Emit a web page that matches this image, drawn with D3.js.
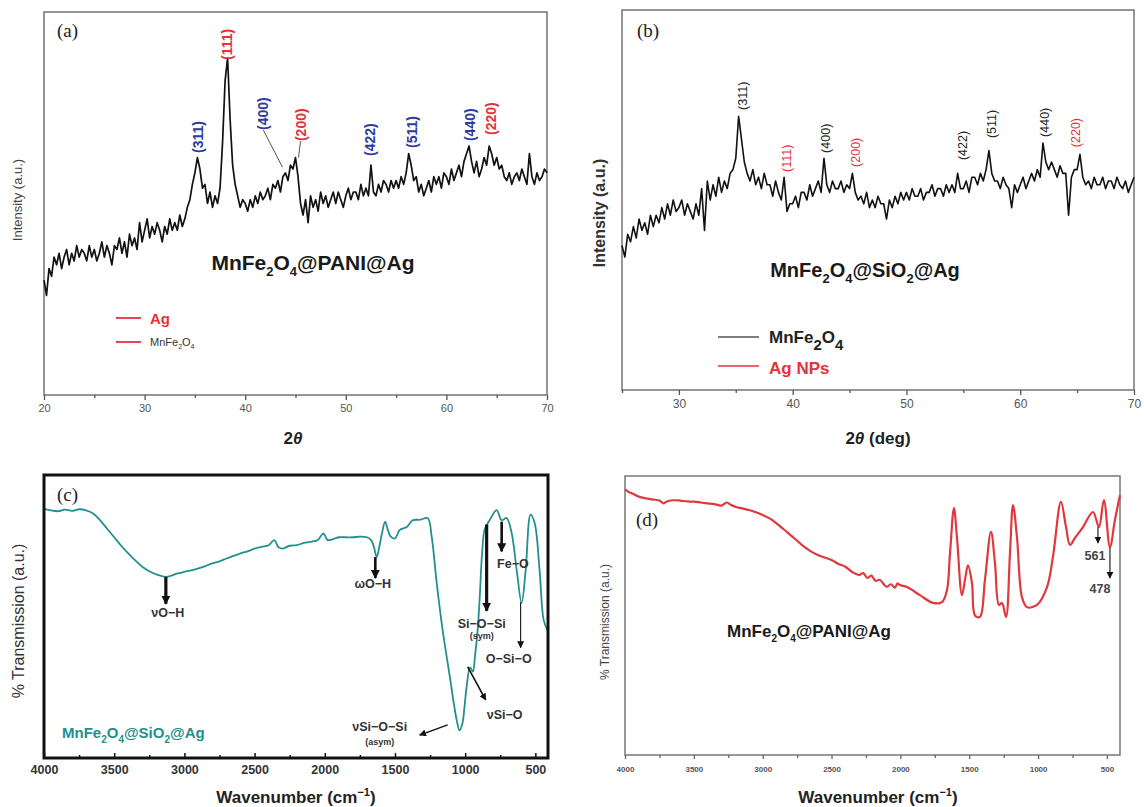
<!DOCTYPE html>
<html>
<head>
<meta charset="utf-8">
<script src="https://cdn.jsdelivr.net/npm/d3@7"></script>
<style>
body { margin: 0; background: #fff; }
svg { display: block; }
</style>
</head>
<body>
<svg id="fig" width="1144" height="807"></svg>
<script>
// ---- data ----
// XRD (a) MnFe2O4@PANI@Ag, scan from 20 deg in 0.25 deg steps
var xrdA_start = 20, xrdA_step = 0.25;
var xrdA = [
  30, 26, 33, 31,  36, 34, 37, 33,  36, 38, 34, 37,  35, 39, 36, 38,  37, 35, 39, 36,
  38, 35, 37, 40,  36, 39, 37, 34,  39, 38, 41, 37,  40, 36, 42, 39,  41, 38, 45, 40,
  43, 46, 41, 44,  42, 45, 43, 40,  44, 42, 46, 43,  45, 43, 47, 44,  46, 49, 51, 55,
  58, 62, 59, 54,  55, 50, 53, 49,  52, 50, 54, 66,  82, 88, 72, 60,  55, 52, 49, 51,
  50, 48, 51, 49,  52, 50, 53, 51,  52, 54, 51, 55,  54, 56, 53, 57,  58, 56, 60, 59,
  62, 57, 50, 47,  51, 45, 52, 49,  51, 48, 53, 50,  52, 49, 51, 53,  50, 53, 51, 49,
  52, 54, 51, 53,  53, 51, 55, 52,  54, 52, 60, 53,  52, 55, 53, 56,  55, 53, 56, 54,
  56, 54, 57, 55,  58, 63, 60, 56,  57, 53, 55, 52,  54, 56, 53, 57,  55, 57, 54, 58,
  57, 55, 59, 56,  58, 60, 57, 61,  63, 65, 61, 58,  61, 57, 59, 62,  60, 65, 63, 60,
  62, 59, 60, 57,  56, 58, 55, 57,  58, 56, 59, 57,  55, 63, 57, 55,  58, 56, 57, 59,
  58
];
var peaksA = [
  { hkl: "(311)", phase: "MnFe2O4", pos: 35.3, top: 63.2 },
  { hkl: "(111)", phase: "Ag", pos: 38.15, top: 87.5 },
  { hkl: "(400)", phase: "MnFe2O4", pos: 41.8, top: 69.2, peakPos: 43.7, peakI: 59.5 },
  { hkl: "(200)", phase: "Ag", pos: 45.5, top: 66.3, peakPos: 45.3, peakI: 62 },
  { hkl: "(422)", phase: "MnFe2O4", pos: 52.4, top: 62.4 },
  { hkl: "(511)", phase: "MnFe2O4", pos: 56.6, top: 64.5 },
  { hkl: "(440)", phase: "MnFe2O4", pos: 62.35, top: 66.3 },
  { hkl: "(220)", phase: "Ag", pos: 64.4, top: 67.9 }
];

// XRD (b) MnFe2O4@SiO2@Ag, scan from 25 deg in 0.25 deg steps
var xrdB_start = 25, xrdB_step = 0.25;
var xrdB = [
  38, 35, 41, 39,  43, 40, 45, 42,  44, 41, 46, 43,  46, 44, 48, 45,  49, 46, 50, 47,
  48, 50, 46, 49,  47, 45, 49, 46,  53, 42, 55, 50,  54, 51, 56, 52,  55, 53, 57, 58,
  61, 72, 66, 60,  57, 55, 58, 54,  56, 53, 57, 54,  54, 51, 55, 52,  50, 56, 47, 49,
  49, 51, 48, 52,  52, 50, 54, 51,  53, 55, 52, 61,  54, 52, 55, 53,  53, 55, 52, 54,
  53, 57, 52, 50,  51, 49, 52, 48,  50, 48, 51, 49,  49, 45, 50, 48,  51, 49, 52, 50,
  52, 50, 53, 51,  51, 53, 50, 52,  52, 54, 51, 53,  53, 51, 54, 52,  54, 52, 57, 53,
  53, 55, 52, 56,  56, 54, 57, 55,  58, 63, 57, 55,  55, 53, 56, 54,  53, 48, 54, 52,
  54, 56, 53, 55,  57, 55, 58, 56,  65, 60, 58, 60,  58, 56, 59, 57,  57, 46, 56, 58,
  58, 62, 56, 54,  55, 53, 56, 54,  54, 56, 53, 55,  55, 53, 56, 54,  53, 55, 52, 54,
  56
];
var peaksB = [
  { hkl: "(311)", phase: "MnFe2O4", pos: 35.6, top: 73.7 },
  { hkl: "(111)", phase: "Ag", pos: 39.5, top: 57.4 },
  { hkl: "(400)", phase: "MnFe2O4", pos: 42.9, top: 62.4 },
  { hkl: "(200)", phase: "Ag", pos: 45.5, top: 58.7 },
  { hkl: "(422)", phase: "MnFe2O4", pos: 54.9, top: 60.5 },
  { hkl: "(511)", phase: "MnFe2O4", pos: 57.5, top: 66.3 },
  { hkl: "(440)", phase: "MnFe2O4", pos: 62.1, top: 66.6 },
  { hkl: "(220)", phase: "Ag", pos: 64.9, top: 63.9 }
];

// FTIR (c) MnFe2O4@SiO2@Ag  [wavenumber, transmission]
var ftirC = [
  [4000, 88], [3900, 87.2], [3850, 87.8], [3800, 87.3], [3750, 87.9], [3700, 87.5],
  [3650, 86.4], [3600, 84], [3550, 81], [3500, 78], [3450, 75], [3400, 72.3],
  [3350, 69.8], [3300, 67.6], [3250, 66], [3200, 64.9], [3130, 64], [3050, 65.2],
  [3000, 65.8], [2950, 66.3], [2900, 67], [2850, 67.8], [2800, 68.8], [2750, 69.5],
  [2700, 70.5], [2650, 71.4], [2600, 72.3], [2550, 73], [2500, 74], [2450, 74.6],
  [2400, 75.2], [2360, 77], [2330, 74.5], [2300, 74], [2250, 75], [2200, 75.2],
  [2150, 76], [2100, 76.4], [2050, 77], [2010, 79.4], [1980, 77], [1950, 77.2],
  [1900, 78], [1850, 78], [1800, 78], [1750, 78.2], [1700, 78], [1670, 77],
  [1650, 74.6], [1630, 71], [1610, 75], [1590, 80], [1570, 83.5], [1550, 80.5],
  [1530, 78.2], [1500, 77.6], [1466, 80.6], [1416, 81.6], [1374, 84], [1320, 84.2],
  [1267, 84.8], [1238, 78], [1203, 62], [1160, 45], [1110, 29], [1080, 19],
  [1060, 13.3], [1040, 9.8], [1020, 12.1], [1005, 18], [990, 25], [965, 32],
  [945, 30.5], [930, 36], [910, 46], [895, 58], [880, 72], [860, 81],
  [826, 84], [776, 87.6], [740, 84], [705, 84.8], [669, 79.5], [633, 66.4],
  [598, 54.8], [569, 66.4], [534, 86], [505, 83], [470, 66.4], [441, 48.8], [413, 45]
];
var arrowsC = [
  { x1: 3132, y1: 64, x2: 3132, y2: 54.5, w: 3.2 },
  { x1: 1640, y1: 71, x2: 1640, y2: 63.6, w: 2.6 },
  { x1: 740, y1: 83.5, x2: 740, y2: 73, w: 2.6 },
  { x1: 847, y1: 82.5, x2: 847, y2: 52, w: 3.2 },
  { x1: 605, y1: 55, x2: 605, y2: 39, w: 1.1 },
  { x1: 982, y1: 32.2, x2: 854, y2: 20.5, w: 1.6 },
  { x1: 1125, y1: 11.7, x2: 1324, y2: 8.1, w: 1.4 }
];
var labelsC = [
  { text: "νO−H", wn: 3118, t: 49.8, small: false },
  { text: "ωO−H", wn: 1658, t: 60, small: false },
  { text: "Fe−O", wn: 660, t: 67.2, small: false },
  { text: "Si−O−Si", wn: 882, t: 46, small: false },
  { text: "(sym)", wn: 882, t: 42.2, small: true },
  { text: "O−Si−O", wn: 690, t: 33.5, small: false },
  { text: "νSi−O", wn: 719, t: 13.8, small: false },
  { text: "νSi−O−Si", wn: 1609, t: 9.5, small: false },
  { text: "(asym)", wn: 1609, t: 4.6, small: true }
];

// FTIR (d) MnFe2O4@PANI@Ag  [wavenumber, transmission]
var ftirD = [
  [4000, 95.2], [3970, 94.2], [3950, 93.8], [3900, 92.6], [3850, 92], [3800, 91.6],
  [3750, 91.2], [3720, 90.2], [3700, 90.8], [3650, 91.3], [3600, 91.2], [3550, 90.9],
  [3500, 90.8], [3450, 90.5], [3400, 90.2], [3350, 89.9], [3300, 89.4], [3260, 90.5],
  [3230, 89.6], [3200, 89], [3150, 88.4], [3100, 87.8], [3050, 87], [3000, 86],
  [2950, 84.8], [2900, 83], [2850, 81], [2800, 78.9], [2750, 76.8], [2700, 74.7],
  [2650, 73], [2600, 71.7], [2550, 70.8], [2500, 69.9], [2450, 68.5], [2400, 67.5],
  [2350, 65.6], [2300, 64.5], [2270, 65.2], [2240, 63.5], [2210, 64.3], [2180, 62.4],
  [2150, 62.8], [2100, 60.3], [2070, 61.2], [2040, 60], [2020, 61.5], [2003, 60.9],
  [1952, 60.2], [1858, 57.3], [1763, 54.5], [1698, 54.8], [1662, 59], [1640, 72],
  [1611, 88.5], [1589, 78], [1553, 57.3], [1531, 62.7], [1509, 68], [1480, 61.6],
  [1458, 50], [1422, 49.5], [1386, 62.7], [1342, 80], [1313, 68.8], [1284, 53.8],
  [1262, 54.5], [1233, 49.5], [1204, 72.4], [1182, 89.6], [1153, 78], [1117, 56.6],
  [1081, 53], [1008, 53.8], [935, 60.2], [892, 71], [834, 90.7], [797, 81.7],
  [768, 75.3], [732, 77.8], [674, 81.7], [601, 87.1], [558, 81.7], [522, 91.4],
  [478, 74.5], [442, 84.2], [405, 93.2]
];
var arrowsD = [
  { x1: 565, y1: 81.7, x2: 565, y2: 76 },
  { x1: 478, y1: 74.5, x2: 478, y2: 63.4 }
];
var labelsD = [
  { text: "561", wn: 587, t: 69.9 },
  { text: "478", wn: 550, t: 58 }
];

var phaseColorA = { "Ag": "#e5323a", "MnFe2O4": "#2c3c9c" };
var phaseColorB = { "Ag": "#e5323a", "MnFe2O4": "#222" };

// ---- drawing ----
var FONT = "Arial, 'Liberation Sans', sans-serif";
var SERIF = "'Times New Roman', 'Liberation Serif', serif";
var svg = d3.select("#fig").attr("font-family", FONT);

var defs = svg.append("defs");
function marker(id, size) {
  defs.append("marker")
      .attr("id", id)
      .attr("viewBox", "0 0 10 10")
      .attr("refX", 9).attr("refY", 5)
      .attr("markerUnits", "userSpaceOnUse")
      .attr("markerWidth", size).attr("markerHeight", size)
      .attr("orient", "auto")
    .append("path")
      .attr("d", "M0,0 L10,5 L0,10 Z")
      .attr("fill", "#111");
}
marker("headBig", 9);
marker("headSmall", 7);

function makePanel(box, xd, yd) {
  return {
    box: box,
    x: d3.scaleLinear().domain(xd).range([box.left, box.right]),
    y: d3.scaleLinear().domain(yd).range([box.bottom, box.top]),
    g: svg.append("g")
  };
}

function frame(p, color, w) {
  p.g.append("rect")
      .attr("x", p.box.left).attr("y", p.box.top)
      .attr("width", p.box.right - p.box.left)
      .attr("height", p.box.bottom - p.box.top)
      .attr("fill", "none").attr("stroke", color).attr("stroke-width", w);
}

function bottomAxis(p, major, minor, o) {
  var gMin = p.g.append("g")
      .attr("transform", "translate(0," + p.box.bottom + ")")
      .call(d3.axisBottom(p.x).tickValues(minor).tickSize(o.minor).tickFormat(""));
  var gMaj = p.g.append("g")
      .attr("transform", "translate(0," + p.box.bottom + ")")
      .call(d3.axisBottom(p.x).tickValues(major).tickSize(o.major)
        .tickPadding(o.pad).tickFormat(d3.format("d")));
  [gMin, gMaj].forEach(function (g) {
    g.select(".domain").remove();
    g.selectAll("line").attr("stroke", o.color).attr("stroke-width", o.w);
  });
  gMaj.selectAll("text")
      .attr("fill", o.text)
      .attr("font-size", o.size)
      .attr("font-weight", o.weight)
      .attr("font-family", FONT);
}

// text with digit subscripts written as _2, _4
function formula(sel, str, subSize) {
  var parts = str.split(/_(\d)/);
  var shift = subSize * 0.45;
  parts.forEach(function (s, i) {
    if (!s) return;
    var t = sel.append("tspan").text(s);
    if (i % 2) t.attr("font-size", subSize).attr("dy", shift);
    else if (i > 0) t.attr("dy", -shift);
  });
}

function xrdLine(p, start, step) {
  return d3.line()
      .x(function (d, i) { return p.x(start + i * step); })
      .y(function (d) { return p.y(d); });
}

function ftirLine(p) {
  return d3.line()
      .curve(d3.curveCatmullRom.alpha(0.5))
      .x(function (d) { return p.x(d[0]); })
      .y(function (d) { return p.y(d[1]); });
}

// ===== (a) =====
var A = makePanel({ left: 44, right: 547, top: 12, bottom: 395 }, [20, 70], [0, 100]);
frame(A, "#6a6a6a", 1.4);
bottomAxis(A, [20, 30, 40, 50, 60, 70], [25, 35, 45, 55, 65],
  { major: 5, minor: 3, pad: 4, color: "#555", w: 1.3, text: "#555", size: 11, weight: "normal" });

A.g.append("path")
    .datum(xrdA)
    .attr("d", xrdLine(A, xrdA_start, xrdA_step))
    .attr("fill", "none").attr("stroke", "#111").attr("stroke-width", 1.7)
    .attr("stroke-linejoin", "round");

A.g.selectAll(".leader")
    .data(peaksA.filter(function (d) { return d.peakPos; }))
  .enter().append("line")
    .attr("x1", function (d) { return A.x(d.pos); })
    .attr("y1", function (d) { return A.y(d.top); })
    .attr("x2", function (d) { return A.x(d.peakPos); })
    .attr("y2", function (d) { return A.y(d.peakI); })
    .attr("stroke", "#555").attr("stroke-width", 1);

A.g.selectAll(".hkl")
    .data(peaksA)
  .enter().append("text")
    .attr("transform", function (d) { return "translate(" + A.x(d.pos) + "," + A.y(d.top) + ") rotate(-90)"; })
    .attr("dy", "0.36em")
    .attr("font-size", 14).attr("font-weight", "bold")
    .attr("fill", function (d) { return phaseColorA[d.phase]; })
    .text(function (d) { return d.hkl; });

A.g.append("text").attr("x", 57).attr("y", 37)
    .attr("font-family", SERIF).attr("font-size", 19).attr("fill", "#222").text("(a)");

formula(A.g.append("text").attr("x", 313).attr("y", 270).attr("text-anchor", "middle")
    .attr("font-size", 21).attr("font-weight", "bold").attr("fill", "#1a1a1a"),
  "MnFe_2O_4@PANI@Ag", 13);

A.g.append("line").attr("x1", 116).attr("x2", 141).attr("y1", 318).attr("y2", 318)
    .attr("stroke", "#e5323a").attr("stroke-width", 1.8);
A.g.append("text").attr("x", 150).attr("y", 324)
    .attr("font-size", 15).attr("font-weight", "bold").attr("fill", "#e5323a").text("Ag");
A.g.append("line").attr("x1", 116).attr("x2", 141).attr("y1", 342).attr("y2", 342)
    .attr("stroke", "#e5323a").attr("stroke-width", 1.8);
formula(A.g.append("text").attr("x", 150).attr("y", 346)
    .attr("font-size", 11).attr("fill", "#333"), "MnFe_2O_4", 7);

A.g.append("text")
    .attr("transform", "translate(22,200) rotate(-90)")
    .attr("text-anchor", "middle").attr("font-size", 13).attr("fill", "#444")
    .text("Intensity (a.u.)");

var axA = A.g.append("text").attr("x", 293).attr("y", 444).attr("text-anchor", "middle")
    .attr("font-size", 17).attr("font-weight", "bold").attr("fill", "#222");
axA.append("tspan").text("2");
axA.append("tspan").attr("font-style", "italic").text("θ");

// ===== (b) =====
var B = makePanel({ left: 622, right: 1134, top: 10, bottom: 390 }, [25, 70], [0, 100]);
frame(B, "#6a6a6a", 1.4);
bottomAxis(B, [30, 40, 50, 60, 70], [25, 35, 45, 55, 65],
  { major: 5, minor: 3, pad: 4, color: "#555", w: 1.3, text: "#555", size: 12, weight: "normal" });

B.g.append("path")
    .datum(xrdB)
    .attr("d", xrdLine(B, xrdB_start, xrdB_step))
    .attr("fill", "none").attr("stroke", "#111").attr("stroke-width", 1.6)
    .attr("stroke-linejoin", "round");

B.g.selectAll(".hkl")
    .data(peaksB)
  .enter().append("text")
    .attr("transform", function (d) { return "translate(" + B.x(d.pos) + "," + B.y(d.top) + ") rotate(-90)"; })
    .attr("dy", "0.36em")
    .attr("font-size", 12.5)
    .attr("fill", function (d) { return phaseColorB[d.phase]; })
    .text(function (d) { return d.hkl; });

B.g.append("text").attr("x", 637).attr("y", 37)
    .attr("font-family", SERIF).attr("font-size", 19).attr("fill", "#222").text("(b)");

formula(B.g.append("text").attr("x", 865).attr("y", 277).attr("text-anchor", "middle")
    .attr("font-size", 20).attr("font-weight", "bold").attr("fill", "#1a1a1a"),
  "MnFe_2O_4@SiO_2@Ag", 13);

B.g.append("line").attr("x1", 718).attr("x2", 759).attr("y1", 337).attr("y2", 337)
    .attr("stroke", "#555").attr("stroke-width", 1.5);
formula(B.g.append("text").attr("x", 769).attr("y", 343)
    .attr("font-size", 17).attr("font-weight", "bold").attr("fill", "#222"), "MnFe_2O_4", 15);
B.g.append("line").attr("x1", 718).attr("x2", 759).attr("y1", 366).attr("y2", 366)
    .attr("stroke", "#e5323a").attr("stroke-width", 1.5);
B.g.append("text").attr("x", 769).attr("y", 374)
    .attr("font-size", 17).attr("font-weight", "bold").attr("fill", "#e5323a").text("Ag NPs");

B.g.append("text")
    .attr("transform", "translate(605,213) rotate(-90)")
    .attr("text-anchor", "middle").attr("font-size", 16).attr("font-weight", "bold").attr("fill", "#333")
    .text("Intensity (a.u.)");

var axB = B.g.append("text").attr("x", 878).attr("y", 444).attr("text-anchor", "middle")
    .attr("font-size", 17).attr("font-weight", "bold").attr("fill", "#222");
axB.append("tspan").text("2");
axB.append("tspan").attr("font-style", "italic").text("θ");
axB.append("tspan").text(" (deg)");

// ===== (c) =====
var C = makePanel({ left: 44, right: 548, top: 475, bottom: 758 }, [4000, 410], [0, 100]);
bottomAxis(C, [4000, 3500, 3000, 2500, 2000, 1500, 1000, 500],
  [3750, 3250, 2750, 2250, 1750, 1250, 750],
  { major: -5, minor: -3, pad: 7, color: "#111", w: 1.5, text: "#333", size: 12.5, weight: "bold" });

C.g.append("path")
    .datum(ftirC)
    .attr("d", ftirLine(C))
    .attr("fill", "none").attr("stroke", "#23908f").attr("stroke-width", 1.8);

C.g.selectAll(".arr")
    .data(arrowsC)
  .enter().append("line")
    .attr("x1", function (d) { return C.x(d.x1); })
    .attr("y1", function (d) { return C.y(d.y1); })
    .attr("x2", function (d) { return C.x(d.x2); })
    .attr("y2", function (d) { return C.y(d.y2); })
    .attr("stroke", "#111")
    .attr("stroke-width", function (d) { return d.w; })
    .attr("marker-end", function (d) { return d.w > 2 ? "url(#headBig)" : "url(#headSmall)"; });

C.g.selectAll(".lab")
    .data(labelsC)
  .enter().append("text")
    .attr("x", function (d) { return C.x(d.wn); })
    .attr("y", function (d) { return C.y(d.t); })
    .attr("text-anchor", "middle")
    .attr("font-size", function (d) { return d.small ? 9 : 12.5; })
    .attr("font-weight", "bold").attr("fill", "#333")
    .text(function (d) { return d.text; });

C.g.append("text").attr("x", 57).attr("y", 501)
    .attr("font-family", SERIF).attr("font-size", 19).attr("fill", "#222").text("(c)");

formula(C.g.append("text").attr("x", 62).attr("y", 738)
    .attr("font-size", 15).attr("font-weight", "bold").attr("fill", "#23908f"),
  "MnFe_2O_4@SiO_2@Ag", 10);

C.g.append("text")
    .attr("transform", "translate(24,621) rotate(-90)")
    .attr("text-anchor", "middle").attr("font-size", 16).attr("fill", "#333")
    .text("% Transmission (a.u.)");

var axC = C.g.append("text").attr("x", 296).attr("y", 803).attr("text-anchor", "middle")
    .attr("font-size", 17).attr("font-weight", "bold").attr("fill", "#222");
axC.append("tspan").text("Wavenumber (cm");
axC.append("tspan").attr("font-size", 11).attr("dy", -7).text("−1");
axC.append("tspan").attr("dy", 7).text(")");

frame(C, "#111", 3);

// ===== (d) =====
var D = makePanel({ left: 625, right: 1120, top: 476, bottom: 755 }, [4000, 405], [0, 100]);
frame(D, "#777", 1.5);
bottomAxis(D, [4000, 3500, 3000, 2500, 2000, 1500, 1000, 500],
  [3750, 3250, 2750, 2250, 1750, 1250, 750],
  { major: 4, minor: 3, pad: 7, color: "#666", w: 1.3, text: "#555", size: 8, weight: "bold" });

D.g.append("path")
    .datum(ftirD)
    .attr("d", ftirLine(D))
    .attr("fill", "none").attr("stroke", "#e0383c").attr("stroke-width", 2.2);

D.g.selectAll(".arr")
    .data(arrowsD)
  .enter().append("line")
    .attr("x1", function (d) { return D.x(d.x1); })
    .attr("y1", function (d) { return D.y(d.y1); })
    .attr("x2", function (d) { return D.x(d.x2); })
    .attr("y2", function (d) { return D.y(d.y2); })
    .attr("stroke", "#222").attr("stroke-width", 1.2)
    .attr("marker-end", "url(#headSmall)");

D.g.selectAll(".lab")
    .data(labelsD)
  .enter().append("text")
    .attr("x", function (d) { return D.x(d.wn); })
    .attr("y", function (d) { return D.y(d.t); })
    .attr("text-anchor", "middle")
    .attr("font-size", 12.5).attr("font-weight", "bold").attr("fill", "#444")
    .text(function (d) { return d.text; });

D.g.append("text").attr("x", 636).attr("y", 526)
    .attr("font-family", SERIF).attr("font-size", 19).attr("fill", "#222").text("(d)");

formula(D.g.append("text").attr("x", 727).attr("y", 637)
    .attr("font-size", 17).attr("font-weight", "bold").attr("fill", "#1a1a1a"),
  "MnFe_2O_4@PANI@Ag", 10);

D.g.append("text")
    .attr("transform", "translate(609,622) rotate(-90)")
    .attr("text-anchor", "middle").attr("font-size", 12).attr("fill", "#444")
    .text("% Transmission (a.u.)");

var axD = D.g.append("text").attr("x", 878).attr("y", 803).attr("text-anchor", "middle")
    .attr("font-size", 17).attr("font-weight", "bold").attr("fill", "#222");
axD.append("tspan").text("Wavenumber (cm");
axD.append("tspan").attr("font-size", 11).attr("dy", -7).text("−1");
axD.append("tspan").attr("dy", 7).text(")");
</script>
</body>
</html>
